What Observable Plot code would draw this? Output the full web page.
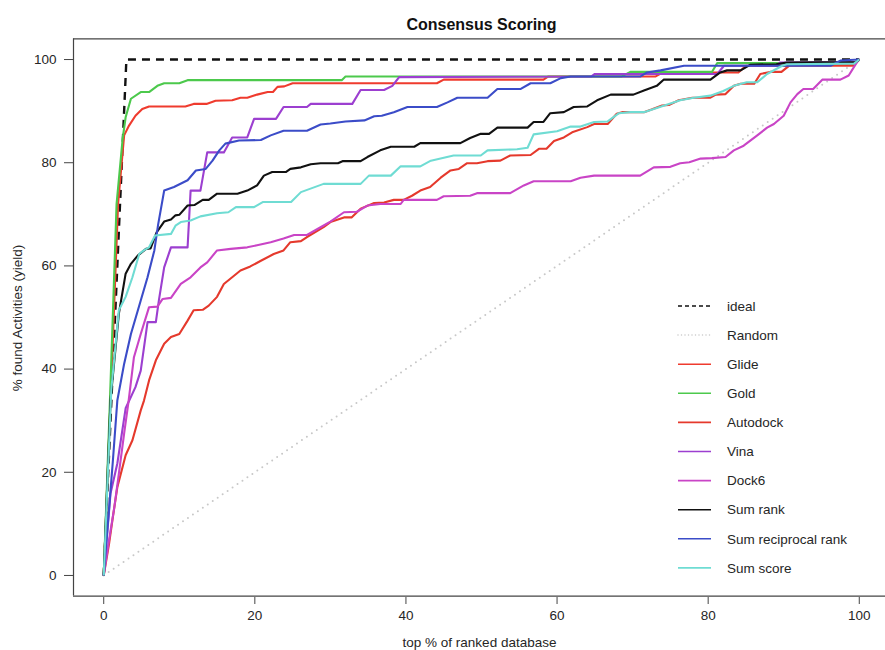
<!DOCTYPE html>
<html><head><meta charset="utf-8">
<script src="https://cdn.jsdelivr.net/npm/d3@7"></script>
<script src="https://cdn.jsdelivr.net/npm/@observablehq/plot@0.6"></script>
<style>html,body{margin:0;padding:0;background:#fff;overflow:hidden} svg{overflow:hidden}</style>
</head><body><div id="chart"></div>
<script>
// ---- data: [top % of ranked database, % found activities] ----
const ideal = [[0,0],[3,100],[100,100]];
const random = [[0,0],[100,100]];
const glide = [[0,0],[0.9,34],[1.9,72],[2.7,85.3],[3.35,87.2],[4.2,89.1],[5.1,90.4],[6,90.9],[10.8,90.9],[11.9,91.4],[13.6,91.4],[14.8,92],[17,92.1],[18.1,92.6],[19,92.6],[20.3,93.2],[21.7,93.7],[22.4,93.7],[23,94.7],[23.9,94.8],[25,95.4],[44.1,95.4],[45,96.1],[58.2,96.1],[58.8,96.7],[73,96.7],[74,97.5],[84,97.5],[85,98.8],[99.2,98.8],[100,100]];
const gold = [[0,0],[0.85,35],[1.7,72],[2.5,84.6],[2.9,88.8],[3.6,92.4],[4.9,93.7],[6,93.7],[7.1,94.9],[8,95.4],[10,95.4],[11.1,96],[31.5,96],[32,96.7],[68.5,96.7],[69.7,97.6],[80.5,97.6],[81.2,99.3],[99.5,99.3],[100,100]];
const autodock = [[0,0],[0.7,6.1],[1.15,10.7],[1.8,17.1],[2.9,23.3],[3.8,26.2],[4.9,32],[5.33,33.9],[6,37.8],[6.9,41.7],[8,44.9],[8.9,46.2],[10,46.8],[11.1,49.4],[11.9,51.4],[13.1,51.5],[13.9,52.3],[15,54],[15.9,56.5],[17,57.8],[18.1,59.1],[19.4,59.9],[20.8,61],[22.5,62.3],[23.8,63],[24.7,64.6],[26.1,64.8],[26.9,65.6],[29.1,67.5],[30,68.5],[31.8,69.4],[32.8,69.4],[34,71.1],[35.8,72.2],[37.1,72.3],[38.4,72.8],[39.7,72.8],[40.8,73.6],[41.9,74.6],[43.2,75.3],[44.6,77.1],[45.9,78.5],[47,78.8],[48.1,79.9],[49.4,79.9],[50.8,80.3],[52.5,80.4],[53.8,81.4],[56.5,81.5],[57.6,82.7],[58.6,82.7],[59.6,84.2],[60.9,84.9],[62,85.9],[64,86.9],[64.9,87.5],[66.7,87.5],[67.9,89.5],[68.6,89.8],[71.5,89.8],[72.5,90.3],[73.9,91.1],[74.8,91.2],[76.1,92.1],[77.9,92.6],[80.3,92.6],[81,93.2],[82.3,93.3],[83.4,94.9],[84.3,95.3],[86.1,95.3],[86.9,97.2],[88.2,97.6],[89.7,97.6],[90.9,99],[99.3,99],[100,100]];
const vina = [[0,0],[0.9,15.9],[1.8,21.7],[2.9,32.4],[4.2,36.5],[4.9,39.7],[5.8,49.1],[6.9,49.1],[7.3,53.3],[8,59.7],[8.9,63.6],[11.1,63.6],[11.5,74.6],[12.8,74.6],[13.7,82],[15.9,82],[17,84.9],[19,84.9],[19.9,88.5],[22.8,88.5],[23.8,90.8],[26.9,90.8],[27.4,91.4],[32.9,91.4],[34,94.1],[37.1,94.1],[38.2,94.9],[39.1,96.6],[64.5,96.7],[65,97.2],[81.2,97.2],[82.1,98.8],[89,98.8],[89.5,99.4],[99.5,99.5],[100,100]];
const dock6 = [[0,0],[0.7,6.8],[1.4,13.2],[2,19.7],[2.7,27.5],[3.3,33.9],[4,42.3],[4.9,46.8],[6,52],[7.1,52.1],[7.8,53.6],[8.9,53.8],[10.2,56.5],[11.5,57.8],[12.8,59.7],[13.7,60.7],[15,63],[16.8,63.3],[19,63.6],[20.3,64],[22.1,64.6],[23.8,65.3],[25.2,66],[26.9,66],[28.7,67.5],[30,68.6],[31.8,70.4],[33.5,70.5],[34.9,71.7],[36.6,72],[39.3,72],[39.7,72.8],[44.1,72.8],[45,73.5],[48.5,73.6],[49.4,74.1],[53.8,74.1],[55.6,75.6],[56.9,76.4],[61.8,76.4],[63.1,77.1],[64.9,77.5],[71,77.5],[72.8,79.1],[75,79.2],[76.3,79.9],[77.5,80.1],[79,80.8],[80.5,80.9],[82.3,81.1],[83.4,82.4],[84.7,83.3],[86.5,85.3],[87.8,86.8],[88.7,87.5],[90,89.1],[90.9,91.7],[91.8,93.3],[92.6,94.3],[93.9,94.3],[95.1,96.1],[97.5,96.1],[98.6,96.9],[99.7,99.5],[100,100]];
const sumRank = [[0,0],[0.9,34],[2,50.7],[2.9,58.5],[3.6,60.4],[4.5,62],[5.6,63.3],[6.2,63.4],[7,66.5],[8,68.6],[8.9,69],[9.5,69.8],[10,69.9],[11.1,71.7],[12,71.8],[13.1,72.8],[13.9,72.8],[15,74],[17.7,74],[19,74.6],[20.3,75.6],[21.2,77.5],[22.3,78.2],[24.1,78.2],[24.7,78.8],[26.1,79.1],[27.4,79.7],[28.7,79.9],[31,79.9],[31.6,80.3],[34,80.3],[34.9,81.1],[36.6,82.4],[38,83.1],[41.1,83.1],[41.9,83.8],[47.2,83.8],[48.5,84.8],[49.9,85.6],[51,85.6],[52.1,86.8],[56.1,86.8],[56.9,87.9],[58.2,87.9],[59.1,89.6],[60.9,89.8],[62.2,90.8],[64,90.9],[65.3,92.1],[67.1,93.2],[70.1,93.2],[71.5,94],[73.2,94.9],[74.1,96.1],[80.3,96.1],[81.6,97.5],[82.5,97.9],[84.3,97.9],[85.6,99],[89,99.1],[90.4,99.4],[99.5,99.5],[100,100]];
const sumReciprocal = [[0,0],[1.2,22],[1.8,33.9],[2.7,41],[3.6,46.8],[4.9,53.3],[5.8,57.8],[6.7,63],[7.2,68],[8,74.6],[9.3,75.3],[11.1,76.6],[12.2,78.5],[13.5,78.8],[14.4,80.4],[15.3,82.4],[16.1,83.7],[17.9,84.3],[20.8,84.4],[22.1,85.3],[23.8,86.2],[26.9,86.2],[28.7,87.4],[30,87.6],[32,88],[34.5,88.2],[35.8,89],[36.8,89.1],[38.4,89.8],[40.2,90.8],[44.1,90.8],[45.5,91.7],[46.8,92.6],[50.8,92.6],[52.1,94.3],[55.2,94.3],[56.5,95.4],[59.1,95.4],[60.5,96.4],[61.8,96.7],[71,96.7],[71.9,97.5],[73.7,97.9],[76.8,98.8],[96.2,98.8],[97.5,99.8],[100,100]];
const sumScore = [[0,0],[1,36],[2,51.4],[2.9,54],[3.8,57.8],[4.7,62.3],[5.3,63],[6,63.6],[6.8,65.9],[8.9,66.2],[9.5,67.8],[10.2,68.5],[11.5,68.8],[12.8,69.6],[15,70.2],[16.5,70.4],[17.5,71.4],[19.9,71.4],[21.1,72.4],[24.8,72.4],[26.1,74.3],[29.1,75.9],[34,75.9],[35.1,77.5],[38,77.5],[39.3,79.3],[41.9,79.3],[43.3,80.4],[46.3,81.4],[49.9,81.4],[50.8,82.4],[54.7,82.6],[56.1,82.9],[56.9,85.5],[60,86.1],[61.8,87],[63.1,87],[64.9,87.9],[66.7,88],[68.2,89.6],[69.7,89.8],[71.5,89.8],[72.8,90.4],[74.6,91.3],[76.3,92.1],[78.1,92.6],[80.3,93],[82,93.9],[83.4,94.9],[85.1,95.6],[86.5,95.6],[87.8,97.2],[89.8,98.8],[90.4,99.1],[99.3,99.2],[100,100]];

const seriesNames = ["ideal","Random","Glide","Gold","Autodock","Vina","Dock6","Sum rank","Sum reciprocal rank","Sum score"];
const seriesData = [ideal, random, glide, gold, autodock, vina, dock6, sumRank, sumReciprocal, sumScore];
const seriesColors = ["#111111","#c8c8c8","#ef3b2e","#4cc94c","#e5392c","#9c3fd0","#c944c6","#111111","#3b4cc8","#6fdcd3"];
const xTicks = [0,20,40,60,80,100];
const yTicks = [0,20,40,60,80,100];
const titleText = "Consensus Scoring";
const xLabel = "top % of ranked database";
const yLabel = "% found Activities (yield)";

const lineMarks = seriesData.map((d, i) => Plot.line(d, {
  x: p => p[0], y: p => p[1],
  stroke: seriesColors[i],
  strokeWidth: i === 0 ? 2.4 : (i === 1 ? 2 : 2.1),
  strokeDasharray: i === 0 ? "8,6" : (i === 1 ? "0,6" : undefined),
  strokeLinecap: i === 1 ? "round" : "butt",
  strokeLinejoin: "round"
}));

const chart = Plot.plot({
  width: 885, height: 650,
  marginLeft: 73, marginRight: 0, marginTop: 38, marginBottom: 53,
  style: {fontFamily: "'Liberation Sans', Arial, Helvetica, sans-serif", fontSize: "13.5px", color: "#262626", background: "#fff"},
  x: {domain: [-4, 104], range: [73, 889]},
  y: {domain: [-4, 104], range: [595.6, 38.4]},
  marks: [
    Plot.ruleY([-4], {x1: -4, x2: 104, stroke: "#444", strokeWidth: 1.2}),
    Plot.ruleY([104], {x1: -4, x2: 104, stroke: "#444", strokeWidth: 1.2}),
    Plot.ruleX([-4], {y1: -4, y2: 104, stroke: "#444", strokeWidth: 1.2}),
    Plot.ruleX([104], {y1: -4, y2: 104, stroke: "#444", strokeWidth: 1.2}),
    Plot.axisX({ticks: xTicks, tickSize: 7, tickPadding: 6, stroke: "#444", label: xLabel, labelAnchor: "center", labelOffset: 49, labelArrow: "none"}),
    Plot.axisY({ticks: yTicks, tickSize: 9, tickPadding: 8, stroke: "#444", label: yLabel, labelAnchor: "center", labelOffset: 61, labelArrow: "none"}),
    ...lineMarks,
    Plot.text([titleText], {frameAnchor: "top", dy: -20, dx: 2, fontWeight: "bold", fontSize: 16, fill: "#111"})
  ]
});
document.getElementById("chart").appendChild(chart);

// legend (inside plot, no box)
const svg = d3.select(chart);
const lg = svg.append("g")
  .attr("font-family", "'Liberation Sans', Arial, Helvetica, sans-serif")
  .attr("font-size", 13.5)
  .attr("text-anchor", "start");
seriesNames.forEach((name, i) => {
  const yy = 306 + i * 29.1;
  lg.append("line").attr("x1", 678).attr("x2", 711).attr("y1", yy).attr("y2", yy)
    .attr("stroke", seriesColors[i]).attr("stroke-width", i === 1 ? 1.5 : 1.6)
    .attr("stroke-linecap", i === 1 ? "round" : "butt")
    .attr("stroke-dasharray", i === 0 ? "4,3" : (i === 1 ? "0,3.5" : null));
  lg.append("text").attr("x", 727).attr("y", yy).attr("dy", "0.35em")
    .attr("text-anchor", "start").attr("fill", "#262626").text(name);
});
</script></body></html>
